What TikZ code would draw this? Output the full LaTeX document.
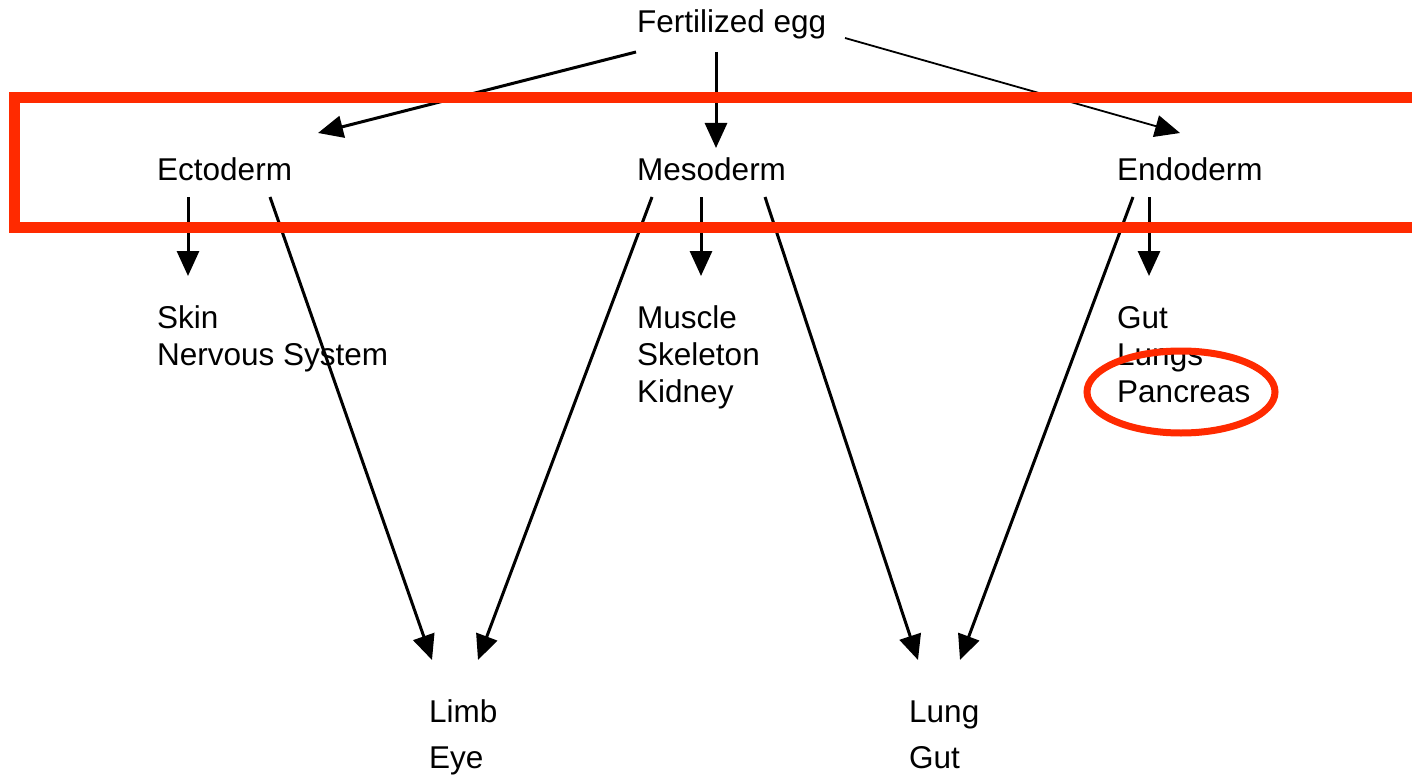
\documentclass[tikz,border=0pt]{standalone}
\usepackage{fontspec}
\setmainfont{Liberation Sans}
\usetikzlibrary{arrows.meta,calc}
\definecolor{hired}{RGB}{255,42,0}
\begin{document}
\begin{tikzpicture}[x=1pt,y=-1pt,
  lbl/.style={anchor=base west,inner sep=0pt,font=\fontsize{31.5}{37}\selectfont},
  arr/.style={line width=3pt,-{Triangle[length=25pt,width=22pt]}},
  thinarr/.style={line width=1.8pt,-{Triangle[length=25pt,width=22pt]}},
  hibox/.style={draw=hired,line width=11pt},
  ring/.style={draw=hired,line width=7pt}]
\useasboundingbox (0,0) rectangle (1412,778);
% labels
\node[lbl] (egg) at (637,33) {Fertilized egg};
\node[lbl] (ecto) at (157,181) {Ectoderm};
\node[lbl] (meso) at (637,181) {Mesoderm};
\node[lbl] (endo) at (1117,181) {Endoderm};
\node[lbl] (skin1) at (157,328) {Skin};
\node[lbl] (skin2) at (157,365) {Nervous System};
\node[lbl] (mus1) at (637,328) {Muscle};
\node[lbl] (mus2) at (637,365) {Skeleton};
\node[lbl] (mus3) at (637,402) {Kidney};
\node[lbl] (gut1) at (1117,328) {Gut};
\node[lbl] (gut2) at (1117,365) {Lungs};
\node[lbl] (gut3) at (1117,402) {Pancreas};
\node[lbl] (limb) at (429,722) {Limb};
\node[lbl] (eye) at (429,768) {Eye};
\node[lbl] (lung) at (909,722) {Lung};
\node[lbl] (gutb) at (909,768) {Gut};
% arrows
\draw[arr] ($(egg.base west)+(-1,19)$) -- ($(ecto.base west)+(161,-48)$);
\draw[arr] ($(egg.base west)+(79,19)$) -- ($(meso.base west)+(79,-33)$);
\draw[thinarr] ($(egg.base west)+(208,5)$) -- ($(endo.base west)+(63,-48)$);
\draw[arr] ($(ecto.base west)+(31,16)$) -- ($(skin1.base west)+(31,-52)$);
\draw[arr] ($(ecto.base west)+(113,16)$) -- ($(limb.base west)+(3,-62)$);
\draw[arr] ($(meso.base west)+(15,16)$) -- ($(limb.base west)+(49,-62)$);
\draw[arr] ($(meso.base west)+(64,16)$) -- ($(mus1.base west)+(64,-52)$);
\draw[arr] ($(meso.base west)+(128,16)$) -- ($(lung.base west)+(9,-62)$);
\draw[arr] ($(endo.base west)+(16,16)$) -- ($(lung.base west)+(51,-62)$);
\draw[arr] ($(endo.base west)+(32,16)$) -- ($(gut1.base west)+(32,-52)$);
% red highlights
\draw[hibox] (1430,98) -- (14.5,98) -- (14.5,227) -- (1430,227);
\draw[ring] ($(gut3.base west)+(64,-10)$) ellipse [x radius=94pt,y radius=41pt];
\end{tikzpicture}
\end{document}
